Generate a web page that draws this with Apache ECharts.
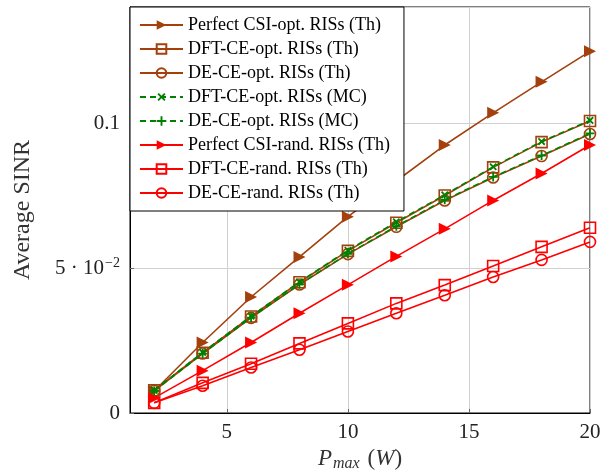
<!DOCTYPE html>
<html>
<head>
<meta charset="utf-8">
<script src="https://cdn.jsdelivr.net/npm/echarts@6/dist/echarts.min.js"></script>
<style>
	html, body { margin: 0; padding: 0; background: #fff; }
	#chart { width: 602px; height: 476px; }
</style>
</head>
<body>
<div id="chart"></div>
<script>
// transmit power (W)
var pmax = [2, 4, 6, 8, 10, 12, 14, 16, 18, 20];

// average SINR
var perfectOpt = [0.0076, 0.0243, 0.0400, 0.0538, 0.0677, 0.0800, 0.0924, 0.1035, 0.1142, 0.1247];
var dftOpt     = [0.0078, 0.0208, 0.0333, 0.0451, 0.0559, 0.0656, 0.0750, 0.0847, 0.0934, 0.1007];
var deOpt      = [0.0076, 0.0205, 0.0328, 0.0443, 0.0548, 0.0642, 0.0733, 0.0812, 0.0886, 0.0962];
var dftOptMC   = [0.0078, 0.0209, 0.0334, 0.0452, 0.0561, 0.0659, 0.0752, 0.0849, 0.0936, 0.1009];
var deOptMC    = [0.0076, 0.0205, 0.0329, 0.0444, 0.0549, 0.0644, 0.0735, 0.0814, 0.0888, 0.0964];
var perfectRand = [0.0052, 0.0146, 0.0243, 0.0344, 0.0442, 0.0540, 0.0635, 0.0733, 0.0826, 0.0924];
var dftRand    = [0.0035, 0.0104, 0.0170, 0.0240, 0.0309, 0.0378, 0.0441, 0.0507, 0.0573, 0.0639];
var deRand     = [0.0035, 0.0094, 0.0157, 0.0218, 0.0281, 0.0344, 0.0406, 0.0469, 0.0528, 0.0590];

var xTicks = [5, 10, 15, 20];

var BROWN = '#a3400c';
var RED = '#ff0000';
var GREEN = '#008000';
var SERIF = '"Liberation Serif", "DejaVu Serif", serif';

var PLUS = 'path://M4,0H6V4H10V6H6V10H4V6H0V4H4Z';

function pairs(ys) {
	return pmax.map(function(x, i) { return [x, ys[i]]; });
}

function makeSeries(name, ys, color, symbol, opts) {
	opts = opts || {};
	var hollow = symbol === 'rect' || symbol === 'circle';
	return {
		name: name,
		type: 'line',
		data: pairs(ys),
		symbol: symbol,
		symbolSize: opts.size || 10,
		symbolRotate: opts.rotate || 0,
		showAllSymbol: true,
		lineStyle: { color: color, width: 1.6, type: opts.dash ? [6, 4] : 'solid' },
		itemStyle: hollow
			? { color: 'none', borderColor: color, borderWidth: 1.6 }
			: { color: color, borderWidth: 0 },
		emphasis: { disabled: true },
		animation: false,
		z: opts.z || 2
	};
}

var chart = echarts.init(document.getElementById('chart'));

var option = {
	backgroundColor: '#fff',
	textStyle: { fontFamily: SERIF },
	grid: {
		left: 130, right: 12, top: 7, bottom: 63,
		outerBoundsMode: 'none',
		show: true, borderColor: '#000', borderWidth: 1
	},
	legend: {
		orient: 'vertical',
		left: 130, top: 7,
		backgroundColor: '#fff',
		borderColor: '#000',
		borderWidth: 1,
		borderRadius: 0,
		padding: [9, 14, 9, 9],
		itemWidth: 43,
		itemHeight: 12,
		itemGap: 6,
		textStyle: { fontFamily: SERIF, fontSize: 18, color: '#000', lineHeight: 18 },
		z: 10
	},
	xAxis: {
		type: 'value',
		min: 1, max: 20,
		name: '{i|P}{s|max}  {n|(}{i|W}{n|)}',
		nameLocation: 'middle',
		nameGap: 34,
		nameTextStyle: {
			rich: {
				i: { fontFamily: SERIF, fontStyle: 'italic', fontSize: 23, color: '#333' },
				s: { fontFamily: SERIF, fontStyle: 'italic', fontSize: 16, color: '#333', padding: [8, 2, 0, 1] },
				n: { fontFamily: SERIF, fontSize: 23, color: '#333' }
			}
		},
		axisLine: { show: true, lineStyle: { color: '#000' } },
		axisTick: { show: true, inside: true, length: 4, customValues: xTicks, lineStyle: { color: '#666' } },
		axisLabel: { customValues: xTicks, fontFamily: SERIF, fontSize: 21, color: '#222', margin: 9 },
		splitLine: { show: true, lineStyle: { color: '#d0d0d0', width: 1 } }
	},
	yAxis: {
		type: 'value',
		min: 0, max: 0.14,
		interval: 0.05,
		name: 'Average SINR',
		nameLocation: 'middle',
		nameRotate: 90,
		nameGap: 95,
		nameTextStyle: { fontFamily: SERIF, fontSize: 24, color: '#333' },
		axisLine: { show: true, lineStyle: { color: '#000' } },
		axisTick: { show: true, inside: true, length: 4, lineStyle: { color: '#666' } },
		axisLabel: {
			showMaxLabel: false,
			fontFamily: SERIF, fontSize: 21, color: '#222', margin: 10,
			formatter: function(v) {
				if (v === 0) return '0';
				if (Math.abs(v - 0.1) < 1e-9) return '0.1';
				if (Math.abs(v - 0.05) < 1e-9) return '{n|5 · 10}{s|−2}';
				return '';
			},
			rich: {
				n: { fontFamily: SERIF, fontSize: 21, color: '#222' },
				s: { fontFamily: SERIF, fontSize: 14, color: '#222', padding: [0, 0, 10, 1] }
			}
		},
		splitLine: { show: true, lineStyle: { color: '#d0d0d0', width: 1 } }
	},
	series: [
		makeSeries('Perfect CSI-opt. RISs (Th)', perfectOpt, BROWN, 'triangle', { rotate: -90, size: 12 }),
		makeSeries('DFT-CE-opt. RISs (Th)', dftOpt, BROWN, 'rect', { size: 11 }),
		makeSeries('DE-CE-opt. RISs (Th)', deOpt, BROWN, 'circle', { size: 11 }),
		makeSeries('DFT-CE-opt. RISs (MC)', dftOptMC, GREEN, PLUS, { rotate: 45, size: 9, dash: true, z: 3 }),
		makeSeries('DE-CE-opt. RISs (MC)', deOptMC, GREEN, PLUS, { size: 9, dash: true, z: 3 }),
		makeSeries('Perfect CSI-rand. RISs (Th)', perfectRand, RED, 'triangle', { rotate: -90, size: 12 }),
		makeSeries('DFT-CE-rand. RISs (Th)', dftRand, RED, 'rect', { size: 11 }),
		makeSeries('DE-CE-rand. RISs (Th)', deRand, RED, 'circle', { size: 11 })
	]
};

chart.setOption(option);
</script>
</body>
</html>
